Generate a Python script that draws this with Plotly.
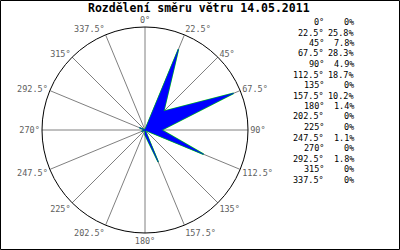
import plotly.graph_objects as go

directions = [0, 22.5, 45, 67.5, 90, 112.5, 135, 157.5, 180, 202.5, 225, 247.5, 270, 292.5, 315, 337.5]
dir_labels = ["0°", "22.5°", "45°", "67.5°", "90°", "112.5°", "135°", "157.5°",
              "180°", "202.5°", "225°", "247.5°", "270°", "292.5°", "315°", "337.5°"]
percent = [0, 25.8, 7.8, 28.3, 4.9, 18.7, 0, 10.2, 1.4, 0, 0, 1.1, 0, 1.8, 0, 0]
pct_labels = ["0%", "25.8%", "7.8%", "28.3%", "4.9%", "18.7%", "0%", "10.2%",
              "1.4%", "0%", "0%", "1.1%", "0%", "1.8%", "0%", "0%"]
title = "Rozdělení směru větru 14.05.2011"

W, H = 400, 250
cx, cy, R = 145, 130, 103

theta = directions + [directions[0]]
r = percent + [percent[0]]

fig = go.Figure()
fig.add_trace(go.Scatterpolar(theta=theta, r=r, mode="lines",
                              line=dict(color="#00dd00", width=1.5), hoverinfo="skip"))
fig.add_trace(go.Scatterpolar(theta=theta, r=r, mode="lines", fill="toself",
                              fillcolor="#0000ff", line=dict(color="#0000ff", width=0.5),
                              hoverinfo="skip"))

mono = "DejaVu Sans Mono"
fig.update_layout(
    width=W, height=H,
    margin=dict(l=0, r=0, t=0, b=0),
    paper_bgcolor="white",
    showlegend=False,
    polar=dict(
        domain=dict(x=[(cx - R) / W, (cx + R) / W], y=[1 - (cy + R) / H, 1 - (cy - R) / H]),
        bgcolor="white",
        angularaxis=dict(
            direction="clockwise", rotation=90,
            tickmode="array", tickvals=directions, ticktext=dir_labels,
            showgrid=True, gridcolor="#808080", gridwidth=1,
            linecolor="black", linewidth=1, ticks="",
            tickfont=dict(family=mono, size=8.5, color="#606060"),
        ),
        radialaxis=dict(range=[0, 30.4], visible=False, showgrid=False),
    ),
)

annotations = [dict(text="<b>" + title + "</b>", x=199 / W, y=1 - 7.5 / H, xref="paper", yref="paper",
                    xanchor="center", yanchor="middle", showarrow=False,
                    font=dict(family=mono, size=11.5, color="black"))]
y0, dy = 22, 10.5
for i, (d, p) in enumerate(zip(dir_labels, pct_labels)):
    yy = 1 - (y0 + i * dy) / H
    annotations.append(dict(text=d, x=326 / W, y=yy, xref="paper", yref="paper",
                            xanchor="right", yanchor="middle", showarrow=False,
                            font=dict(family=mono, size=8.5, color="black")))
    annotations.append(dict(text=p, x=356 / W, y=yy, xref="paper", yref="paper",
                            xanchor="right", yanchor="middle", showarrow=False,
                            font=dict(family=mono, size=8.5, color="black")))
fig.update_layout(annotations=annotations)
fig.add_shape(type="rect", xref="paper", yref="paper",
              x0=0.5 / W, x1=1 - 0.5 / W, y0=0.5 / H, y1=1 - 0.5 / H,
              line=dict(color="black", width=1))

fig.write_html("out.html")
